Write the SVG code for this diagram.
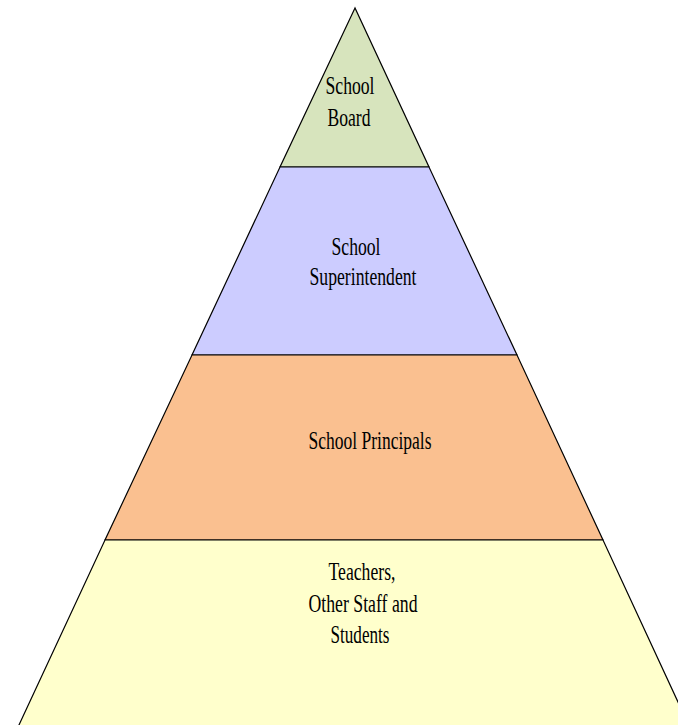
<svg xmlns="http://www.w3.org/2000/svg" width="678" height="725" viewBox="0 0 678 725">
<style>
.lvl{stroke:#000;stroke-width:1.2;stroke-linejoin:miter}
.t{font-family:"Liberation Serif","Times New Roman",serif;font-size:26px;fill:#000;text-anchor:middle}
</style>
<rect width="678" height="725" fill="#fff"/>
<g id="board">
<polygon class="lvl" fill="#d7e4bd" points="355,8 280,167 429,167"/>
<text class="t" x="350" y="94" textLength="49" lengthAdjust="spacingAndGlyphs">School</text>
<text class="t" x="349" y="126" textLength="43" lengthAdjust="spacingAndGlyphs">Board</text>
</g>
<g id="superintendent">
<polygon class="lvl" fill="#ccccff" points="280,167 429,167 517,355 192,355"/>
<text class="t" x="356" y="255" textLength="49" lengthAdjust="spacingAndGlyphs">School</text>
<text class="t" x="363" y="285" textLength="107" lengthAdjust="spacingAndGlyphs">Superintendent</text>
</g>
<g id="principals">
<polygon class="lvl" fill="#fac090" points="192,355 517,355 603,540 105,540"/>
<text class="t" x="370" y="449" textLength="123" lengthAdjust="spacingAndGlyphs">School Principals</text>
</g>
<g id="teachers">
<polygon class="lvl" fill="#ffffcc" points="105,540 603,540 684,715 684,740 12,740"/>
<text class="t" x="362" y="580" textLength="67" lengthAdjust="spacingAndGlyphs">Teachers,</text>
<text class="t" x="363" y="612" textLength="109" lengthAdjust="spacingAndGlyphs">Other Staff and</text>
<text class="t" x="360" y="643" textLength="59" lengthAdjust="spacingAndGlyphs">Students</text>
</g>
<g id="connectors"></g>
</svg>
